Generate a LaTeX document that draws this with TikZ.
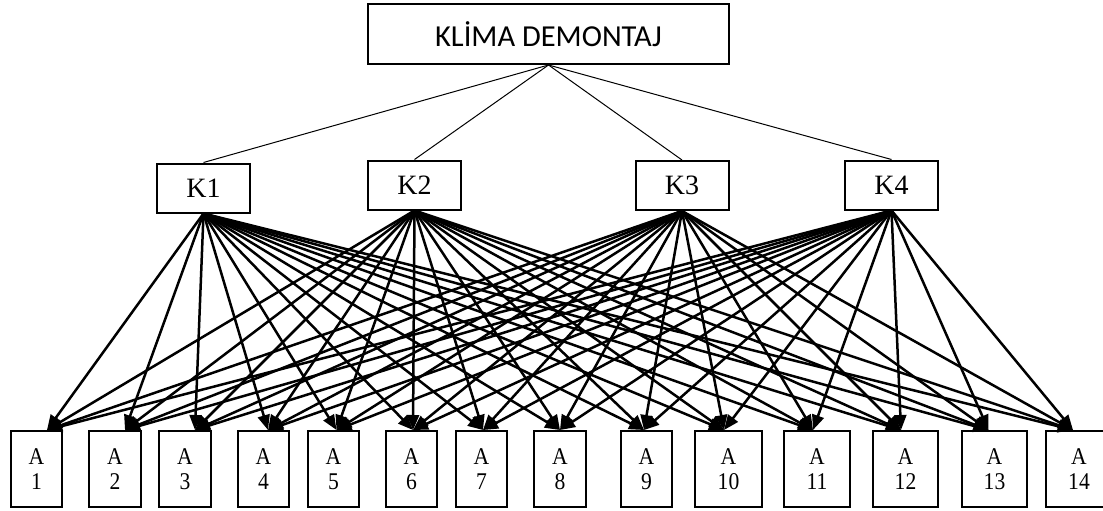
\documentclass[tikz,border=0pt]{standalone}
\usepackage{fontspec}
\setmainfont{Liberation Serif}
\newfontfamily\calib{Carlito}
\newfontfamily\tallserif{Liberation Serif}[FakeStretch=0.9]
\usetikzlibrary{arrows.meta}
\begin{document}
\begin{tikzpicture}[x=1pt,y=-1pt,
  box/.style={draw,line width=2pt,inner sep=0pt,align=center},
  topbox/.style={box,minimum width=361pt,minimum height=60pt,font=\calib\fontsize{30.5}{34}\selectfont},
  kbox/.style={box,minimum width=93pt,minimum height=49pt,font=\fontsize{28}{30}\selectfont},
  abox/.style={box,minimum height=76pt,font=\tallserif\fontsize{24}{25.6}\selectfont},
  thinline/.style={line width=1pt},
  arr/.style={line width=2.5pt,-{Triangle[length=15pt,width=12pt]}}]
\useasboundingbox (0,0) rectangle (1103,511);
\node[topbox] (top) at (548.5,34) {KLİMA DEMONTAJ};
\node[kbox] (k1) at (203.5,188) {K1};
\node[kbox] (k2) at (414.5,185) {K2};
\node[kbox] (k3) at (682,185.5) {K3};
\node[kbox] (k4) at (891.5,185) {K4};
\node[abox,minimum width=51pt] (a1) at (36.5,469) {A\\1};
\node[abox,minimum width=52pt] (a2) at (115,469) {A\\2};
\node[abox,minimum width=52pt] (a3) at (185,469) {A\\3};
\node[abox,minimum width=51pt] (a4) at (263.5,469) {A\\4};
\node[abox,minimum width=51pt] (a5) at (333.5,469) {A\\5};
\node[abox,minimum width=51pt] (a6) at (411.5,469) {A\\6};
\node[abox,minimum width=51pt] (a7) at (481.5,469) {A\\7};
\node[abox,minimum width=52pt] (a8) at (560,469) {A\\8};
\node[abox,minimum width=51pt] (a9) at (646.5,469) {A\\9};
\node[abox,minimum width=67pt] (a10) at (728.5,469) {A\\10};
\node[abox,minimum width=66pt] (a11) at (817,469) {A\\11};
\node[abox,minimum width=65pt] (a12) at (905.5,469) {A\\12};
\node[abox,minimum width=65pt] (a13) at (994.5,469) {A\\13};
\node[abox,minimum width=66pt] (a14) at (1079,469) {A\\14};
% arrow targets on the top edges of the A boxes
\coordinate (t1) at (47,430);
\coordinate (t2) at (125,430);
\coordinate (t3) at (195,430);
\coordinate (t4) at (268,430);
\coordinate (t5) at (336.5,430);
\coordinate (t6) at (413,430);
\coordinate (t7) at (483,430);
\coordinate (t8) at (560,430);
\coordinate (t9) at (644,430);
\coordinate (t10) at (724,430);
\coordinate (t11) at (813,430);
\coordinate (t12) at (901,430);
\coordinate (t13) at (988.5,430);
\coordinate (t14) at (1073,430);
\foreach \k in {1,...,4}
  \draw[thinline] (top.south) -- (k\k.north);
\foreach \k in {1,...,4}
  \foreach \a in {1,...,14}
    \draw[arr] (k\k.south) -- (t\a);
\end{tikzpicture}
\end{document}
